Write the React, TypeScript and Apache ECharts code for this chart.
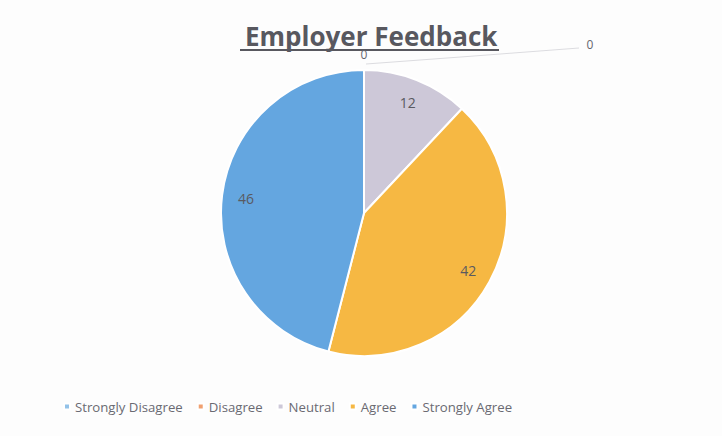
import React, { useEffect, useRef } from "react";
import * as echarts from "echarts";

const categories = ["Strongly Disagree", "Disagree", "Neutral", "Agree", "Strongly Agree"];
const values = [0, 0, 12, 42, 46];
const sliceColors = ["#93c2e8", "#f0a070", "#cdc8d8", "#f6b843", "#64a6e0"];

const W = 722;
const H = 436;
const CX = 364;
const CY = 213;
const R = 143;

export default function App() {
  const ref = useRef<HTMLDivElement>(null);
  useEffect(() => {
    if (!ref.current) return;
    const chart = echarts.init(ref.current, null, { renderer: "svg", width: W, height: H });
    const data = categories.map((name, i) => ({
      name,
      value: values[i],
      itemStyle: { color: sliceColors[i] },
      labelLine: { show: i === 1 },
    }));
    chart.setOption({
      animation: false,
      backgroundColor: "#fdfdfd",
      title: {
        text: "Employer Feedback",
        left: 240,
        top: 18,
        textStyle: {
          fontFamily: "Open Sans",
          fontWeight: "bold",
          fontSize: 26,
          color: "#58585f",
        },
      },
      graphic: [
        {
          type: "line",
          shape: { x1: 240, y1: 50, x2: 499, y2: 50 },
          style: { stroke: "#58585f", lineWidth: 2 },
        },
      ],
      legend: {
        bottom: 18,
        left: 58,
        icon: "rect",
        itemWidth: 6,
        itemHeight: 6,
        itemGap: 14,
        textStyle: { fontFamily: "Open Sans", fontSize: 13.2, color: "#6a6a72" },
        data: categories,
      },
      series: [
        {
          type: "pie",
          center: [CX, CY],
          radius: [0, R],
          startAngle: 90,
          clockwise: true,
          avoidLabelOverlap: false,
          itemStyle: { borderColor: "#ffffff", borderWidth: 2 },
          label: {
            show: true,
            position: "outside",
            fontFamily: "Open Sans",
            fontSize: 12,
            color: "#66666e",
            formatter: (p: any) => (p.value === 0 ? String(p.value) : ""),
          },
          labelLine: { lineStyle: { color: "#dcdce0", width: 1 } },
          labelLayout: (p: any) => {
            if (p.dataIndex === 0) {
              return { x: CX, y: CY - R - 16, align: "center", verticalAlign: "middle" };
            }
            if (p.dataIndex === 1) {
              return {
                x: CX + 226,
                y: CY - R - 26,
                align: "center",
                verticalAlign: "middle",
                labelLinePoints: [
                  [CX + 2, CY - R - 6],
                  [CX + 110, CY - R - 14],
                  [CX + 215, CY - R - 22],
                ],
              };
            }
            return {};
          },
          emphasis: { disabled: true },
          data,
        },
        {
          type: "pie",
          center: [CX, CY],
          radius: [R * 0.62, R],
          startAngle: 90,
          clockwise: true,
          silent: true,
          avoidLabelOverlap: false,
          itemStyle: { color: "rgba(0,0,0,0)" },
          label: {
            show: true,
            position: "inside",
            fontFamily: "Open Sans",
            fontSize: 14,
            color: "#5a5a60",
            formatter: (p: any) => (p.value === 0 ? "" : String(p.value)),
          },
          labelLine: { show: false },
          emphasis: { disabled: true },
          data: categories.map((name, i) => ({
            name,
            value: values[i],
            itemStyle: { color: "rgba(0,0,0,0)" },
          })),
        },
      ],
    });
    return () => chart.dispose();
  }, []);
  return (
    <div
      ref={ref}
      style={{ position: "fixed", left: 0, top: 0, width: W, height: H }}
    />
  );
}
